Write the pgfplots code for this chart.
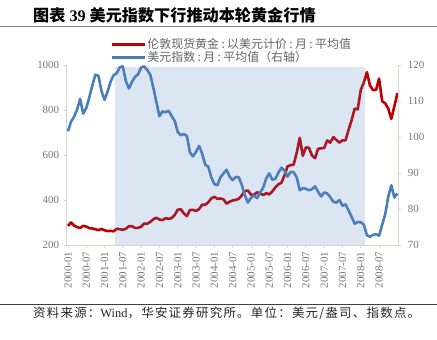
\documentclass[border=0pt]{standalone}
\usepackage{pgfplots}
\pgfplotsset{compat=1.18}
\usepackage{pgfplotstable}
\usepackage{fontspec}
\setmainfont{Liberation Serif}
\newfontfamily\cjk{Noto Sans CJK SC}
\newfontfamily\cjksrc{Noto Sans CJK SC}[LetterSpace=10]
\newcommand\cc{\kern0.2em:\kern0.2em}
\definecolor{goldred}{RGB}{192,0,0}
\definecolor{dxyblue}{RGB}{74,126,187}
\definecolor{axgray}{RGB}{217,214,204}
\definecolor{txtgray}{RGB}{118,118,118}
\definecolor{legtxt}{RGB}{100,100,100}
\definecolor{shadeblue}{RGB}{79,129,189}

\pgfplotstableread{
m G
0 284.6
1 300.0
2 286.4
3 280.0
4 275.3
5 285.4
6 282.0
7 274.5
8 273.7
9 270.0
10 266.0
11 271.5
12 265.5
13 261.9
14 263.0
15 260.5
16 272.4
17 270.2
18 267.5
19 272.4
20 283.4
21 283.1
22 276.2
23 275.9
24 281.7
25 295.5
26 294.0
27 302.7
28 314.5
29 321.2
30 313.3
31 310.3
32 319.2
33 316.6
34 319.2
35 333.4
36 356.9
37 359.0
38 340.6
39 328.2
40 355.7
41 356.4
42 351.0
43 359.8
44 378.9
45 378.9
46 389.9
47 407.6
48 414.0
49 405.3
50 406.7
51 403.0
52 383.5
53 392.4
54 398.1
55 400.5
56 405.3
57 420.5
58 439.4
59 442.1
60 424.0
61 423.4
62 434.2
63 429.2
64 421.9
65 430.7
66 424.5
67 437.9
68 456.0
69 469.9
70 476.7
71 509.8
72 549.9
73 555.0
74 557.1
75 610.6
76 676.5
77 596.2
78 633.7
79 632.6
80 598.2
81 585.8
82 627.8
83 629.8
84 631.2
85 664.8
86 654.9
87 679.4
88 666.9
89 655.5
90 665.3
91 665.4
92 712.7
93 754.6
94 806.3
95 803.2
96 889.6
97 922.3
98 968.4
99 909.7
100 888.7
101 889.5
102 939.8
103 839.0
104 829.9
105 806.6
106 760.9
107 816.1
108 875.0
}\goldtable

\pgfplotstableread{
m D
0 101.6
1 104.2
2 105.6
3 107.6
4 110.6
5 106.5
6 108.0
7 111.0
8 114.3
9 117.3
10 117.0
11 112.8
12 110.3
13 112.6
14 115.4
15 117.2
16 117.7
17 119.4
18 119.6
19 115.5
20 113.5
21 115.3
22 116.7
23 117.4
24 119.3
25 119.6
26 118.6
27 117.3
28 113.7
29 109.7
30 105.8
31 107.1
32 106.9
33 107.3
34 105.8
35 104.5
36 101.4
37 100.5
38 100.8
39 100.3
40 95.7
41 94.6
42 95.9
43 97.5
44 95.4
45 92.3
46 91.8
47 88.8
48 86.9
49 86.6
50 88.8
51 89.9
52 90.9
53 89.0
54 88.0
55 88.9
56 88.8
57 86.7
58 83.8
59 81.8
60 83.1
61 83.8
62 83.0
63 84.6
64 85.9
65 88.5
66 89.9
67 88.1
68 88.4
69 90.1
70 91.5
71 90.6
72 89.0
73 90.3
74 90.2
75 88.8
76 85.2
77 85.8
78 85.6
79 85.2
80 85.5
81 86.3
82 84.8
83 83.5
84 84.6
85 84.3
86 83.3
87 82.0
88 81.8
89 82.5
90 80.9
91 81.3
92 79.6
93 77.8
94 75.9
95 76.4
96 76.3
97 75.7
98 72.7
99 72.3
100 72.8
101 73.0
102 72.6
103 75.6
104 78.5
105 83.4
106 86.6
107 83.2
108 84.3
}\dxytable

\pgfplotsset{
  base/.style={
    scale only axis, width=331.6bp, height=180bp,
    xmin=-0.4, xmax=108.3,
    at={(66.7bp,94bp)}, anchor=south west,
    /pgf/number format/assume math mode=true,
    /pgf/number format/1000 sep={},
    tick label style={font=\fontsize{11}{12}\selectfont, text=txtgray},
    axis line style={axgray, line width=0.8bp},
    tick style={axgray, line width=0.8bp},
    major tick length=3bp, tick align=outside,
  }
}

\begin{document}
\begin{tikzpicture}[x=1bp,y=1bp]
\useasboundingbox (0,0) rectangle (437,339);
\node[anchor=west, inner sep=0] at (33,324) {\fontsize{16.2}{18}\selectfont\bfseries{\cjk 图表} 39 {\cjk 美元指数下行推动本轮黄金行情}};
\draw[gray, line width=0.8bp] (0,312.5) -- (437,312.5);
\draw[black!75, line width=1.2bp] (0,34.3) -- (437,34.3);
\node[anchor=west, inner sep=0, text=black!85] at (33,25.7) {\fontsize{12.5}{14}\selectfont{\cjksrc 资料来源：}Wind{\cjksrc ，华安证券研究所。单位：美元/盎司、指数点。}};

\begin{axis}[base,
  axis y line*=left, axis x line*=bottom,
  ymin=200, ymax=1000, ytick={200,400,...,1000},
  xtick={0,6,...,102},
  xticklabels={2000-01,2000-07,2001-01,2001-07,2002-01,2002-07,2003-01,2003-07,2004-01,2004-07,2005-01,2005-07,2006-01,2006-07,2007-01,2007-07,2008-01,2008-07},
  xticklabel style={rotate=90, anchor=east},
  yticklabel style={xshift=-1bp},
]
\addplot[goldred, line width=2.6bp, line join=round, no markers] table[x=m, y=G] {\goldtable};
\end{axis}

\begin{axis}[base,
  axis y line*=right, axis x line=none,
  ymin=70, ymax=120, ytick={70,80,...,120},
  yticklabel style={xshift=3bp},
  legend style={at={(0.1306,1.152)}, anchor=north west, draw=none, fill=none,
    inner sep=0pt, outer sep=0pt, row sep=0pt,
    font=\cjk\fontsize{12}{13}\selectfont, text=legtxt,
    nodes={inner sep=1.2bp, text height=9.4bp, text depth=1.6bp}},
  legend cell align=left,
  legend image code/.code={\draw[#1, line width=3.2bp] (0bp,0bp) -- (33bp,0bp);},
]
\addlegendimage{goldred, line width=2.6bp}
\addlegendentry{伦敦现货黄金\cc 以美元计价\cc 月\cc 平均值}
\addplot[dxyblue, line width=2.6bp, line join=round, no markers] table[x=m, y=D] {\dxytable};
\addlegendentry{美元指数\cc 月\cc 平均值（右轴）}
\addplot[draw=none, fill=shadeblue, fill opacity=0.2, forget plot] coordinates {(15.5,70) (15.5,119.4) (97.5,119.4) (97.5,70)} -- cycle;
\end{axis}
\end{tikzpicture}
\end{document}
